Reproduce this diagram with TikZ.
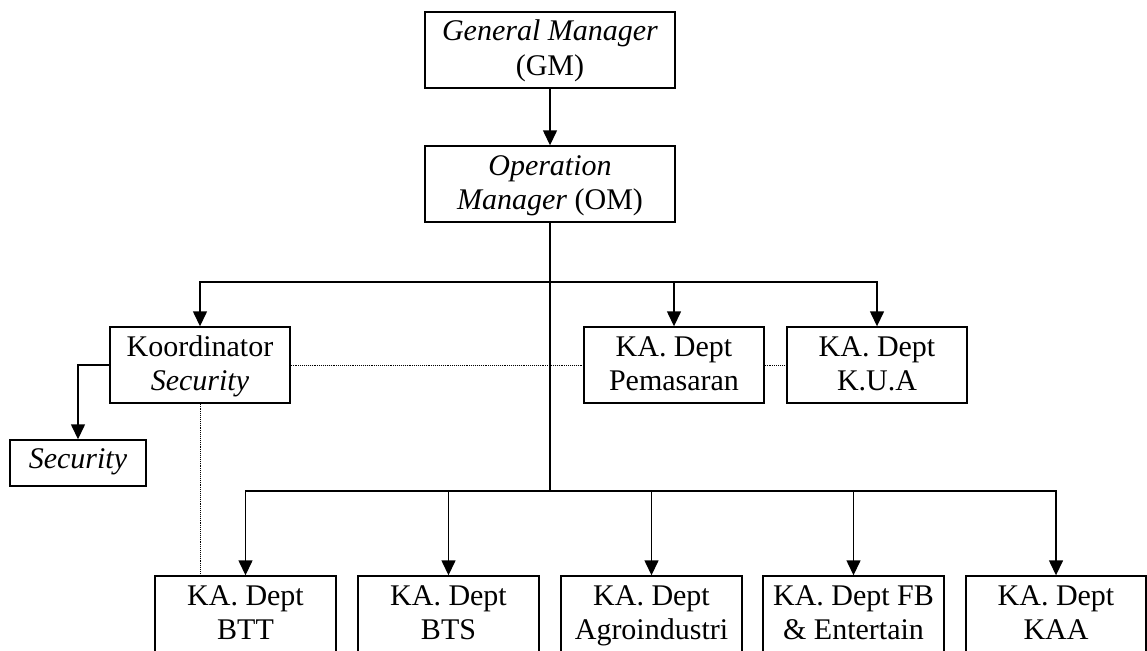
\documentclass[tikz,border=0pt]{standalone}
\usepackage{fontspec}
\setmainfont{Liberation Serif}
\usetikzlibrary{arrows.meta}
\begin{document}
\begin{tikzpicture}[x=1pt,y=-1pt,
  box/.style={draw,line width=1.4pt,align=center,inner sep=0pt,
    text height=63.5pt,text depth=12.5pt,
    font=\fontsize{30}{34.5}\selectfont},
  arr/.style={line width=1.4pt,-{Triangle[length=15pt,width=14pt]}},
  ln/.style={line width=1.4pt},
  dot/.style={line width=0.9pt,densely dotted}]
\useasboundingbox (0,0) rectangle (1147,650);
\clip (0,0) rectangle (1147,650);
\node[box,minimum width=250pt] (gm) at (550,50) {\textit{General Manager}\\(GM)};
\node[box,minimum width=250pt] (om) at (550,184) {\textit{Operation}\\\textit{Manager} (OM)};
\node[box,minimum width=180pt] (koord) at (200,365) {Koordinator\\\textit{Security}};
\node[box,minimum width=180pt] (pem) at (674,365) {KA. Dept\\Pemasaran};
\node[box,minimum width=180pt] (kua) at (877,365) {KA. Dept\\K.U.A};
\node[box,minimum width=136pt,text height=28pt,text depth=18pt] (sec) at (78,463) {\textit{Security}};
\node[box,minimum width=181pt] (btt) at (245.5,614) {KA. Dept\\BTT};
\node[box,minimum width=181pt] (bts) at (448.5,614) {KA. Dept\\BTS};
\node[box,minimum width=181pt] (agro) at (651.5,614) {KA. Dept\\Agroindustri};
\node[box,minimum width=181pt] (fb) at (853.5,614) {KA. Dept FB\\\& Entertain};
\node[box,minimum width=180pt] (kaa) at (1056,614) {KA. Dept\\KAA};
\coordinate (j1) at (550,282);
\coordinate (j2) at (550,491);
\draw[arr] (gm) -- (om);
\draw[ln] (om.south) -- (j2);
\draw[arr] (j1) -| (koord.north);
\draw[arr] (j1) -| (kua.north);
\draw[arr] (pem.north |- j1) -- (pem.north);
\draw[arr] (j2) -| (btt.north);
\draw[arr] (j2) -| (kaa.north);
\draw[arr] (bts.north |- j2) -- (bts.north);
\draw[arr] (agro.north |- j2) -- (agro.north);
\draw[arr] (fb.north |- j2) -- (fb.north);
\draw[arr] (koord.west) -| (sec.north);
\draw[dot] (koord.east) -- (pem.west);
\draw[dot] (pem.east) -- (kua.west);
\draw[dot] (koord.south) -- (koord.south |- btt.north);
\end{tikzpicture}
\end{document}
